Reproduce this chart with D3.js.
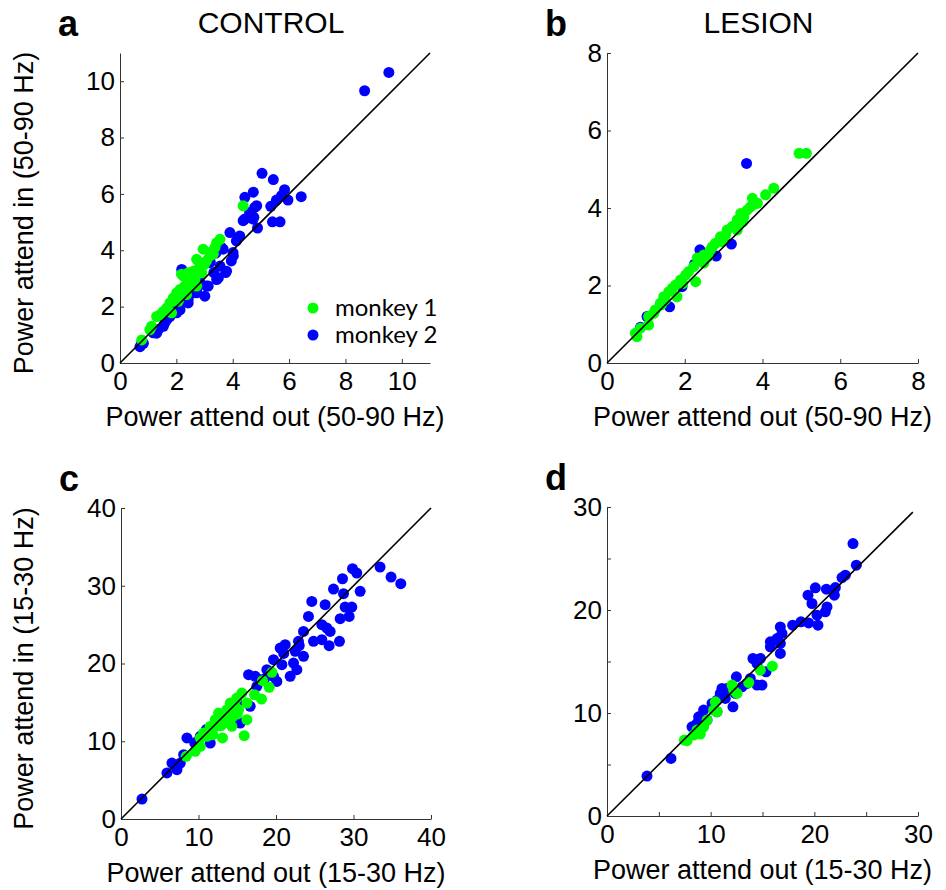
<!DOCTYPE html>
<html>
<head>
<meta charset="utf-8">
<script src="https://cdn.jsdelivr.net/npm/d3@7"></script>
<style>
  body { margin: 0; background: #fff; }
  text { font-family: "Liberation Sans", Arial, sans-serif; fill: #000; }
</style>
</head>
<body>
<div id="container"></div>
<script>
const width = 946;
const height = 890;

// gamma band (50-90 Hz), control hemisphere
const ctrlGammaM1 = [[4.37,5.58],[3.55,4.39],[3.37,4.10],[2.95,4.04],[3.19,3.80],[2.72,3.68],[2.84,3.44],[2.60,3.26],[2.25,3.08],[2.48,2.96],[2.30,2.73],[2.72,2.73],[2.01,2.49],[2.13,2.61],[1.89,2.31],[1.77,2.13],[1.66,1.95],[1.54,1.83],[1.42,1.71],[1.30,1.65],[1.83,1.78],[1.12,1.30],[1.06,1.18],[0.77,0.82],[2.36,2.43],[2.54,2.73],[2.90,3.20],[3.07,3.62],[3.43,4.27],[2.07,2.19],[2.42,3.20],[3.31,3.86],[2.78,3.33],[2.18,3.15],[2.66,3.00],[3.00,3.50],[3.25,3.95],[2.00,2.30],[1.95,2.20],[2.20,2.50]];
const ctrlGammaM2 = [[9.54,10.31],[8.68,9.66],[5.04,6.73],[5.44,6.51],[5.84,6.15],[5.73,5.94],[5.55,5.78],[5.96,5.78],[6.43,5.90],[5.35,5.56],[4.78,5.52],[4.60,5.34],[4.37,5.05],[4.72,5.11],[5.41,5.01],[5.68,5.01],[4.88,4.79],[4.73,6.06],[4.43,5.88],[4.85,5.58],[4.43,5.11],[4.75,5.17],[3.90,4.63],[4.20,4.45],[4.25,4.51],[4.13,4.33],[4.02,3.80],[4.01,3.92],[3.95,3.62],[3.78,3.26],[3.75,3.21],[3.49,3.02],[3.33,3.21],[3.07,2.73],[3.13,2.73],[3.01,2.37],[2.72,2.61],[2.72,2.49],[2.60,2.49],[2.19,3.32],[2.42,2.13],[2.42,2.26],[2.13,1.89],[2.13,2.02],[1.66,1.54],[1.54,1.30],[1.30,1.06],[1.36,1.19],[1.18,1.07],[0.83,0.70],[0.71,0.58],[0.77,0.71],[3.19,3.56],[3.55,3.44],[3.66,4.04],[3.43,2.96],[2.84,2.85],[2.01,1.78],[1.77,1.65],[1.77,1.78],[1.59,1.43],[2.50,2.70],[2.80,3.10],[3.20,3.60],[3.40,3.90],[2.30,2.50],[1.90,2.00],[3.60,4.10]];

// gamma band, lesion hemisphere
const lesGammaM1 = [[4.94,5.41],[5.13,5.41],[4.29,4.51],[4.08,4.34],[3.74,4.25],[3.87,4.12],[3.61,3.95],[3.44,3.86],[3.35,3.69],[3.22,3.52],[3.35,3.43],[3.09,3.43],[2.92,3.26],[2.96,3.13],[2.71,3.00],[2.49,2.79],[2.32,2.71],[2.49,2.58],[2.23,2.49],[2.10,2.36],[2.28,2.10],[1.89,2.14],[1.76,2.01],[1.80,1.71],[1.59,1.84],[1.46,1.71],[1.37,1.54],[1.24,1.37],[1.07,1.20],[1.07,0.98],[0.86,0.90],[0.73,0.77],[0.77,0.68],[2.02,2.27],[2.79,3.09],[2.66,2.92],[3.05,3.30],[3.52,3.78],[3.69,4.03],[1.68,1.93],[1.50,1.63],[1.20,1.28],[3.80,4.10],[3.50,3.65],[2.60,2.75],[1.95,2.05],[1.40,1.50]];
const lesGammaM2 = [[3.59,5.15],[2.39,2.92],[2.81,2.76],[3.20,3.07],[1.61,1.45],[1.03,1.20],[0.86,0.92],[1.93,1.97],[2.25,2.55]];

// beta band (15-30 Hz), control hemisphere
const ctrlBetaM1 = [[19.47,18.86],[18.26,17.79],[19.12,16.93],[18.13,15.43],[17.23,15.99],[15.90,10.72],[16.24,12.77],[15.60,16.20],[14.74,14.49],[14.10,14.92],[13.67,14.06],[12.81,13.20],[13.24,12.34],[12.16,12.77],[11.52,11.49],[10.66,11.06],[11.09,10.63],[10.23,9.34],[9.58,8.70],[8.42,8.06],[13.10,10.42],[14.31,11.92],[12.16,11.92],[12.59,13.63],[15.17,14.06],[16.24,14.92],[10.23,10.42],[14.95,15.56],[14.44,13.20],[11.86,10.84],[13.80,13.00],[12.90,12.00],[11.50,11.90],[15.00,13.50]];
const ctrlBetaM2 = [[2.71,2.57],[33.43,32.40],[34.85,31.12],[36.10,30.26],[29.87,32.19],[30.42,31.63],[28.58,30.90],[30.86,29.28],[27.42,29.58],[28.71,28.98],[24.62,27.99],[26.34,27.56],[28.92,27.26],[29.78,27.26],[24.19,26.06],[28.28,25.76],[29.44,26.06],[25.91,24.99],[26.56,24.56],[26.99,24.13],[23.55,24.13],[24.84,22.85],[25.91,23.06],[26.86,22.29],[28.19,22.85],[22.90,22.85],[20.54,21.99],[21.19,22.42],[22.48,21.56],[23.55,20.92],[19.68,20.49],[20.76,19.85],[22.26,20.06],[22.69,19.20],[21.83,18.35],[18.82,19.20],[20.11,17.70],[16.46,18.56],[17.32,18.35],[17.96,17.92],[17.53,17.06],[8.51,10.42],[5.93,5.92],[7.22,6.34],[6.57,7.20],[8.08,8.27],[14.95,14.92],[15.38,12.34],[11.52,9.77],[10.23,10.63],[13.67,13.20],[16.67,14.49],[19.68,18.35],[7.65,7.20],[9.50,9.80],[12.50,12.90],[14.20,14.60],[11.00,11.50],[18.50,18.00],[21.00,21.30],[23.00,22.30]];

// beta band, lesion hemisphere
const lesBetaM1 = [[15.95,14.55],[14.79,14.16],[13.67,12.96],[12.54,11.90],[12.06,12.71],[12.22,12.22],[10.45,11.09],[10.61,10.12],[10.29,10.28],[9.65,9.31],[9.32,8.66],[9.00,7.95],[8.36,7.86],[7.72,7.31],[7.46,7.37],[8.68,8.34]];
const lesBetaM2 = [[3.86,3.88],[6.17,5.59],[23.73,26.45],[24.05,24.35],[22.99,23.38],[22.67,23.15],[20.10,22.15],[21.16,22.02],[22.03,22.18],[21.93,21.44],[19.39,21.44],[19.77,20.63],[21.22,20.30],[21.06,19.82],[20.26,19.50],[20.35,18.53],[19.45,18.75],[18.71,18.85],[17.91,18.53],[16.72,18.36],[16.88,17.72],[16.40,17.23],[15.76,16.91],[16.72,16.75],[16.72,15.78],[15.76,16.42],[14.79,15.29],[14.08,15.29],[14.47,14.81],[15.34,14.00],[14.95,12.71],[14.47,12.71],[13.83,13.35],[13.50,12.87],[12.48,13.51],[11.58,12.38],[12.15,10.60],[11.41,11.41],[10.93,11.90],[10.61,11.25],[10.13,10.93],[10.61,10.12],[9.32,10.28],[9.65,9.31],[8.84,9.63],[8.68,8.99],[8.20,8.66],[11.09,12.38],[13.02,12.54],[12.38,11.90]];

const ticksA = [0, 2, 4, 6, 8, 10];
const ticksB = [0, 2, 4, 6, 8];
const ticksC = [0, 10, 20, 30, 40];
const ticksD = [0, 10, 20, 30];
const minorD = [5, 15, 25];

const legendLabels = ["monkey 1", "monkey 2"];
const colors = ["#00ff00", "#0000ff"];

const panels = [
    { letter: "a", title: "CONTROL", m1: ctrlGammaM1, m2: ctrlGammaM2, max: 11, diag: 11, ticks: ticksA, minor: [],
      left: 120, right: 430, bottom: 363, top: 53, xLabel: "Power attend out (50-90 Hz)", yLabel: "Power attend in (50-90 Hz)", legend: true },
    { letter: "b", title: "LESION", m1: lesGammaM1, m2: lesGammaM2, max: 8, diag: 8, ticks: ticksB, minor: [],
      left: 607, right: 918, bottom: 363, top: 53, xLabel: "Power attend out (50-90 Hz)", yLabel: null },
    { letter: "c", title: null, m1: ctrlBetaM1, m2: ctrlBetaM2, max: 40, diag: 40, ticks: ticksC, minor: [],
      left: 121, right: 431, bottom: 819, top: 508, xLabel: "Power attend out (15-30 Hz)", yLabel: "Power attend in (15-30 Hz)" },
    { letter: "d", title: null, m1: lesBetaM1, m2: lesBetaM2, max: 30, diag: 29.5, ticks: ticksD, minor: minorD,
      left: 607, right: 918, bottom: 816, top: 507, xLabel: "Power attend out (15-30 Hz)", yLabel: null }
];

const svg = d3.select("#container").append("svg")
    .attr("width", width)
    .attr("height", height);

panels.forEach(p => {
    const x = d3.scaleLinear().domain([0, p.max]).range([p.left, p.right]);
    const y = d3.scaleLinear().domain([0, p.max]).range([p.bottom, p.top]);
    const g = svg.append("g");

    // axes, MATLAB style: ticks pointing inward
    g.append("g")
        .attr("transform", `translate(0,${p.bottom})`)
        .call(d3.axisBottom(x).tickValues(p.ticks).tickSizeInner(-4).tickSizeOuter(0).tickPadding(9));
    g.append("g")
        .attr("transform", `translate(${p.left},0)`)
        .call(d3.axisLeft(y).tickValues(p.ticks).tickSizeInner(-4).tickSizeOuter(0).tickPadding(5));

    if (p.minor.length) {
        g.append("g")
            .attr("transform", `translate(0,${p.bottom})`)
            .call(d3.axisBottom(x).tickValues(p.minor).tickSizeInner(-4).tickSizeOuter(0).tickFormat(""))
            .select(".domain").remove();
        g.append("g")
            .attr("transform", `translate(${p.left},0)`)
            .call(d3.axisLeft(y).tickValues(p.minor).tickSizeInner(-4).tickSizeOuter(0).tickFormat(""))
            .select(".domain").remove();
    }

    g.selectAll(".domain").attr("stroke", "#333");
    g.selectAll(".tick line").attr("stroke", "#333");
    g.selectAll(".tick text")
        .attr("font-size", 26)
        .attr("font-family", "Liberation Sans, Arial, sans-serif")
        .attr("fill", "#000");

    // blue first, green on top
    g.append("g").selectAll("circle")
        .data(p.m2)
        .join("circle")
        .attr("cx", d => x(d[0]))
        .attr("cy", d => y(d[1]))
        .attr("r", 5.5)
        .attr("fill", colors[1]);

    g.append("g").selectAll("circle")
        .data(p.m1)
        .join("circle")
        .attr("cx", d => x(d[0]))
        .attr("cy", d => y(d[1]))
        .attr("r", 5.5)
        .attr("fill", colors[0]);

    // unity line
    g.append("line")
        .attr("x1", x(0)).attr("y1", y(0))
        .attr("x2", x(p.diag)).attr("y2", y(p.diag))
        .attr("stroke", "#000")
        .attr("stroke-width", 1.6);

    g.append("text")
        .attr("x", (p.left + p.right) / 2)
        .attr("y", p.bottom + 63)
        .attr("text-anchor", "middle")
        .attr("font-size", 27)
        .text(p.xLabel);

    if (p.yLabel) {
        g.append("text")
            .attr("transform", `translate(33,${(p.top + p.bottom) / 2 + 5}) rotate(-90)`)
            .attr("text-anchor", "middle")
            .attr("font-size", 27)
            .text(p.yLabel);
    }

    g.append("text")
        .attr("x", p.left - 62)
        .attr("y", p.top - 17)
        .attr("font-size", 36)
        .attr("font-weight", "bold")
        .text(p.letter);

    if (p.title) {
        g.append("text")
            .attr("x", (p.left + p.right) / 2 - 4)
            .attr("y", 33)
            .attr("text-anchor", "middle")
            .attr("font-size", 30)
            .text(p.title);
    }

    if (p.legend) {
        const lg = g.append("g").attr("transform", "translate(313,308)");
        legendLabels.forEach((t, i) => {
            lg.append("circle")
                .attr("cx", 0).attr("cy", i * 27)
                .attr("r", 5.5)
                .attr("fill", colors[i]);
            lg.append("text")
                .attr("x", 22).attr("y", i * 27)
                .attr("dy", "0.35em")
                .attr("font-size", 24)
                .style("font-family", "Lato, 'Open Sans', sans-serif")
                .text(t);
        });
    }
});
</script>
</body>
</html>
